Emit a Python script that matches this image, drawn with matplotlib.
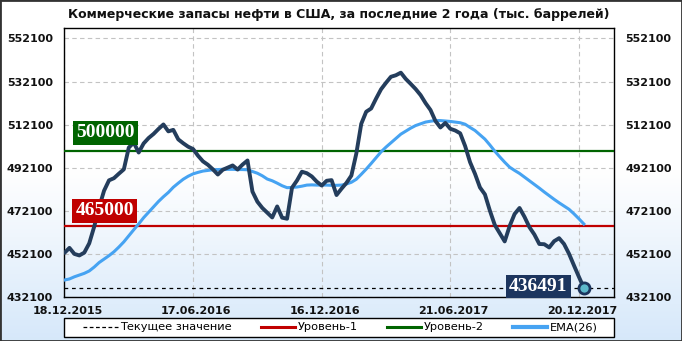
import numpy as np
import matplotlib
matplotlib.use("Agg")
import matplotlib.pyplot as plt
from matplotlib.lines import Line2D
from matplotlib.patches import Rectangle
from matplotlib.transforms import ScaledTranslation

plt.rcParams['font.family'] = ['DejaVu Sans']

# ---------------- data ----------------
title = "Коммерческие запасы нефти в США, за последние 2 года (тыс. баррелей)"
x_labels = ["18.12.2015", "17.06.2016", "16.12.2016", "21.06.2017", "20.12.2017"]
x_label_idx = [0, 26, 52, 78, 104]
y_ticks = [432100, 452100, 472100, 492100, 512100, 532100, 552100]
level1 = 465000
level2 = 500000
legend_labels = ["Текущее значение", "Уровень-1", "Уровень-2", "EMA(26)"]

stocks = [
    452700, 455000, 452200, 451500, 452800, 457100, 464800, 473800, 481500, 486300,
    487300, 489400, 491400, 501500, 503800, 499200, 503400, 505900, 507800, 510100,
    512200, 509000, 509700, 505300, 503500, 501900, 500800, 497700, 495100, 493500,
    491400, 489000, 491200, 492200, 493200, 491300, 493600, 495500, 481100, 476400,
    473500, 471300, 469100, 474200, 469000, 468500, 482900, 486200, 490300, 489600,
    488100, 485700, 483900, 486100, 486400, 479500, 482400, 485100, 488500, 498700,
    512500, 518100, 519600, 524200, 528500, 531500, 534300, 535000, 536200, 533300,
    531000, 528600, 525800, 522100, 518900, 513800, 510800, 512900, 510200, 509400,
    508100, 502200, 494700, 489300, 483000, 479800, 472300, 465600, 461800, 458000,
    465100, 470700, 473500, 469400, 464600, 461200, 456800, 456700, 455200, 458100,
    459500, 456800, 452300, 446900, 441600, 436491,
]

ema26 = [
    440100, 440600, 441600, 442400, 443200, 444300, 446100, 448200, 449800, 451400,
    453200, 455400, 457800, 460600, 463400, 466100, 469000, 471500, 474000, 476500,
    478700, 480700, 483100, 485000, 486800, 488200, 489300, 490000, 490600, 490900,
    491200, 491300, 491400, 491400, 491400, 491300, 491300, 491200, 490400, 489600,
    488400, 486900, 486100, 485000, 483800, 482900, 483000, 483200, 483600, 484100,
    484200, 484100, 484100, 484100, 484000, 484000, 484100, 484600, 485400, 486800,
    489100, 491500, 494100, 496800, 499500, 501700, 503700, 505700, 507700, 509100,
    510500, 511700, 512500, 513300, 513700, 514000, 514000, 513800, 513600, 513300,
    513000, 512300, 510800, 509400, 507400, 505400, 502700, 499800, 497200, 494700,
    492400, 490900, 489500, 487800, 486100, 484400, 482700, 480900, 479200, 477500,
    475900, 474400, 472900, 470800, 468500, 466100,
]

# ---------------- styles ----------------
C_STOCK = '#243d5c'
C_EMA = '#46a3f2'
C_RED = '#c00000'
C_GREEN = '#006400'
C_NAVY = '#1c355e'

W, H = 682, 341
fig = plt.figure(figsize=(W / 100, H / 100), dpi=100)

# background gradient (white -> light blue at the bottom)
bg = fig.add_axes([0, 0, 1, 1], zorder=-10)
bg.set_axis_off()
g = np.linspace(0, 1, 256)
t = np.clip((g - 0.5) / 0.5, 0, 1)
top_c = np.array([1.0, 1.0, 1.0])
bot_c = np.array([0.84, 0.91, 0.98])
img = top_c[None, :] * (1 - t[:, None]) + bot_c[None, :] * t[:, None]
bg.imshow(img[:, None, :], aspect='auto', extent=[0, 1, 0, 1], origin='upper')
bg.set_xlim(0, 1)
bg.set_ylim(0, 1)

# main axes
ax = fig.add_axes([64 / W, (H - 297.3) / H, 550 / W, (297.3 - 28) / H])
ax.set_facecolor('none')
x = np.arange(len(stocks))
ax.set_xlim(-0.1, 111.1)
ax.set_ylim(432100, 556900)

ax.set_yticks(y_ticks)
ax.set_yticklabels([str(v) for v in y_ticks])
ax.set_xticks(x_label_idx)
ax.set_xticklabels(x_labels)
ax.grid(True, color='#c3c3c3', linestyle=(0, (4, 3)), lw=0.8, zorder=0)
ax.tick_params(axis='both', length=0, labelsize=8, colors='#111111')
ax.tick_params(axis='y', pad=8, labelright=True)
ax.tick_params(axis='x', pad=6)
for lab in ax.get_xticklabels() + ax.get_yticklabels():
    lab.set_fontweight('bold')
for lab in ax.get_xticklabels():
    lab.set_transform(lab.get_transform() + ScaledTranslation(3 / 100, 0, fig.dpi_scale_trans))
for sp in ax.spines.values():
    sp.set_color('black')
    sp.set_linewidth(1.0)

ax.axhline(level1, color=C_RED, lw=1.6, zorder=3)
ax.axhline(level2, color=C_GREEN, lw=1.6, zorder=3)
ax.axhline(stocks[-1], color='black', lw=0.9, ls=(0, (3, 3)), zorder=3)
ax.plot(x, ema26, color=C_EMA, lw=2.2, zorder=4, solid_joinstyle='round')
ax.plot(x, stocks, color=C_STOCK, lw=2.8, zorder=5, solid_joinstyle='round',
        solid_capstyle='round')
ax.plot(x[-1], stocks[-1], 'o', ms=8, mfc='#5cb8cb', mec=C_NAVY, mew=2, zorder=7)

lab_kw = dict(textcoords='offset pixels', ha='center', va='center', color='white',
              fontsize=14, fontweight='bold', family='Liberation Serif', zorder=8)
ax.annotate(f"{level2}", xy=(0, level2), xycoords=('axes fraction', 'data'),
            xytext=(41.5, 18), bbox=dict(boxstyle='square,pad=0.17', fc=C_GREEN, ec='none'),
            **lab_kw)
ax.annotate(f"{level1}", xy=(0, level1), xycoords=('axes fraction', 'data'),
            xytext=(40.5, 15.5), bbox=dict(boxstyle='square,pad=0.17', fc=C_RED, ec='none'),
            **lab_kw)
ax.annotate(f"{stocks[-1]}", xy=(x[-1], stocks[-1]), xycoords='data',
            xytext=(-45.5, 1.5), bbox=dict(boxstyle='square,pad=0.17', fc=C_NAVY, ec='none'),
            **lab_kw)

# title
fig.text(339 / W, 1 - 14.5 / H, title, ha='center', va='center',
         fontsize=9.0, fontweight='bold', color='#111111')

# legend: frame drawn separately to span the plot width
fig.add_artist(Rectangle((64 / W, 1 - 337 / H), 550 / W, 19 / H,
                         transform=fig.transFigure, fc='white', ec='black', lw=1.0,
                         zorder=5))
handles = [
    Line2D([], [], color='black', lw=0.9, ls=(0, (3, 2))),
    Line2D([], [], color=C_RED, lw=2.2),
    Line2D([], [], color=C_GREEN, lw=2.2),
    Line2D([], [], color=C_EMA, lw=3.0),
]
leg = fig.legend(handles, legend_labels, loc='center',
                 bbox_to_anchor=(340.5 / W, 1 - 327.5 / H),
                 ncol=4, frameon=False, fontsize=8.2, handlelength=3.0,
                 handletextpad=0.2, columnspacing=2.6, borderpad=0.2,
                 borderaxespad=0)
leg.set_zorder(6)

# outer border
fig.add_artist(Rectangle((0, 0), 1, 1, transform=fig.transFigure, fill=False,
                         ec='#333333', lw=2, zorder=100))

fig.savefig('out.png', dpi=100, facecolor='white')
